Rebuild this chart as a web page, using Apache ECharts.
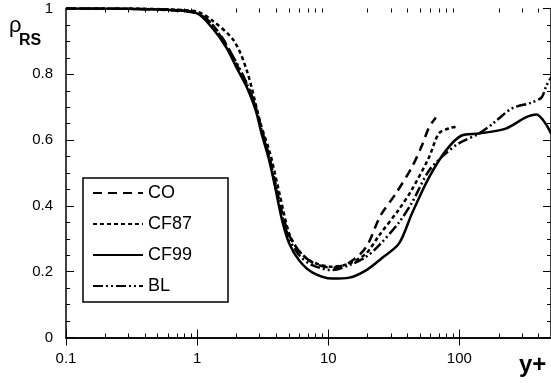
<!DOCTYPE html>
<html>
<head>
<meta charset="utf-8">
<script src="https://cdn.jsdelivr.net/npm/echarts@6/dist/echarts.min.js"></script>
<style>
  html, body { margin: 0; padding: 0; background: #fff; }
  #chart { width: 551px; height: 383px; }
</style>
</head>
<body>
<div id="chart"></div>
<script>
// tick positions on the log axis
const majorTicks = [0.1, 1, 10, 100]
const minorTicks = [0.2, 0.3, 0.4, 0.5, 0.6, 0.7, 0.8, 0.9, 2, 3, 4, 5, 6, 7, 8, 9,
  20, 30, 40, 50, 60, 70, 80, 90, 200, 300, 400]

// CO (long dash)
const coX = [0.1, 0.3, 0.6, 1.0, 1.31, 1.68, 2.0, 2.4, 2.8, 3.1, 3.5, 3.9, 4.45, 5.05, 6.01, 7.55, 10.7, 14.5, 19.4, 25, 32.7, 43.5, 52, 58.6, 66.2]
const coY = [1.0, 0.999, 0.995, 0.985, 0.95, 0.89, 0.83, 0.77, 0.70, 0.635, 0.56, 0.48, 0.38, 0.31, 0.262, 0.228, 0.212, 0.228, 0.274, 0.37, 0.437, 0.518, 0.585, 0.638, 0.669]

// CF87 (short dash)
const cf87X = [0.1, 0.3, 0.6, 1.0, 1.31, 1.9, 2.4, 3.05, 3.6, 4.25, 5.05, 6.01, 7.55, 10.7, 14.5, 19.4, 24.4, 34.7, 43.5, 58.6, 69.8, 85, 99]
const cf87Y = [1.0, 1.0, 0.997, 0.99, 0.963, 0.903, 0.81, 0.65, 0.56, 0.437, 0.315, 0.262, 0.23, 0.215, 0.225, 0.255, 0.31, 0.39, 0.45, 0.547, 0.62, 0.637, 0.641]

// CF99 (solid)
const cf99X = [0.1, 0.3, 0.6, 1.0, 1.31, 1.68, 2.0, 2.4, 2.8, 3.1, 3.5, 3.9, 4.45, 5.05, 6.01, 7.55, 10.7, 14.5, 19.4, 26, 34.7, 43.5, 58.6, 78.9, 104, 141, 226, 321, 388, 455, 500]
const cf99Y = [1.0, 0.999, 0.996, 0.985, 0.94, 0.88, 0.82, 0.76, 0.69, 0.62, 0.547, 0.465, 0.356, 0.285, 0.234, 0.198, 0.179, 0.182, 0.204, 0.243, 0.286, 0.377, 0.486, 0.568, 0.614, 0.62, 0.635, 0.669, 0.678, 0.65, 0.62]

// BL (dash-dot-dot)
const blX = [0.1, 0.3, 0.6, 1.0, 1.31, 2.0, 2.4, 2.8, 3.1, 3.5, 3.9, 4.45, 5.05, 6.01, 7.55, 10.7, 14.5, 19.4, 24.4, 34.7, 43.5, 58.6, 78.9, 99, 141, 180, 251, 355, 424, 462, 500]
const blY = [1.0, 0.999, 0.996, 0.986, 0.95, 0.835, 0.77, 0.70, 0.63, 0.555, 0.47, 0.37, 0.30, 0.25, 0.22, 0.205, 0.22, 0.245, 0.28, 0.35, 0.41, 0.507, 0.56, 0.59, 0.62, 0.65, 0.696, 0.714, 0.73, 0.766, 0.79]

const FONT = 'Liberation Sans'
const plotRect = { left: 66, top: 8.5, width: 486, height: 329 }

const pairs = (xs, ys) => xs.map((x, i) => [x, ys[i]])

const lineSeries = (name, xs, ys, type) => ({
  name: name,
  type: 'line',
  data: pairs(xs, ys),
  smooth: 0.3,
  symbol: 'none',
  lineStyle: { color: '#000', width: 2.5, type: type },
  itemStyle: { color: '#000' }
})

// tick styles: outward ticks with negative length point into the plot
const tickStyle = (len, inside) => ({
  show: true,
  inside: inside,
  length: inside ? len : -len,
  lineStyle: { color: '#000', width: 1 }
})

// log x axis; grid 0 carries the major ticks, grid 1 (same rect) the minor ones
const logAxis = (grid, pos, ticks, len, labels, inside) => ({
  gridIndex: grid,
  type: 'log',
  logBase: 10,
  min: 0.1,
  max: 500,
  position: pos,
  axisLine: { show: grid === 0, lineStyle: { color: '#000', width: 1.5 } },
  axisTick: Object.assign(tickStyle(len, inside), { customValues: ticks }),
  axisLabel: labels ? {
    show: true,
    customValues: majorTicks,
    color: '#000',
    fontSize: 15,
    fontFamily: FONT,
    margin: 14,
    formatter: (v) => String(parseFloat(Number(v).toPrecision(3)))
  } : { show: false },
  splitLine: { show: false }
})

const valAxis = (grid, pos, labels, inside) => ({
  gridIndex: grid,
  show: grid === 0,
  type: 'value',
  min: 0,
  max: 1,
  interval: 0.2,
  position: pos,
  axisLine: { show: true, lineStyle: { color: '#000', width: 1.5 } },
  axisTick: tickStyle(8, inside),
  minorTick: { show: true, splitNumber: 4, length: inside ? 4 : -4, lineStyle: { color: '#000', width: 1 } },
  axisLabel: labels ? {
    show: true,
    color: '#000',
    fontSize: 15,
    fontFamily: FONT,
    margin: 13,
    formatter: (v) => (v === 0 ? '0' : v === 1 ? '1' : v.toFixed(1))
  } : { show: false },
  splitLine: { show: false }
})

const chart = echarts.init(document.getElementById('chart'))

chart.setOption({
  animation: false,
  backgroundColor: '#fff',
  grid: [plotRect, plotRect],
  xAxis: [
    logAxis(0, 'bottom', majorTicks, 8, true, false),
    logAxis(0, 'top', majorTicks, 8, false, true),
    logAxis(1, 'bottom', minorTicks, 4, false, false),
    logAxis(1, 'top', minorTicks, 4, false, true)
  ],
  yAxis: [
    valAxis(0, 'left', true, true),
    valAxis(0, 'right', false, false),
    valAxis(1, 'left', false, true)
  ],
  legend: {
    orient: 'vertical',
    left: 83,
    top: 178,
    data: ['CO', 'CF87', 'CF99', 'BL'],
    itemWidth: 50,
    itemHeight: 14,
    itemGap: 13,
    padding: [6, 36, 7, 9],
    borderColor: '#000',
    borderWidth: 1.5,
    borderRadius: 0,
    backgroundColor: '#fff',
    itemStyle: { opacity: 0 },
    textStyle: { color: '#000', fontSize: 18, fontFamily: FONT },
    selectedMode: false
  },
  graphic: [
    { type: 'text', left: 9, top: 15, style: { text: 'ρ', fontSize: 22, fontFamily: FONT, fill: '#000' } },
    { type: 'text', left: 19, top: 33, style: { text: 'RS', fontSize: 16, fontWeight: 'bold', fontFamily: FONT, fill: '#000' } },
    { type: 'text', left: 519, top: 353, style: { text: 'y+', fontSize: 24, fontWeight: 'bold', fontFamily: FONT, fill: '#000' } }
  ],
  series: [
    lineSeries('CO', coX, coY, [9, 6]),
    lineSeries('CF87', cf87X, cf87Y, [4, 3]),
    lineSeries('CF99', cf99X, cf99Y, 'solid'),
    lineSeries('BL', blX, blY, [10, 3, 2, 3, 2, 3])
  ]
})
</script>
</body>
</html>
